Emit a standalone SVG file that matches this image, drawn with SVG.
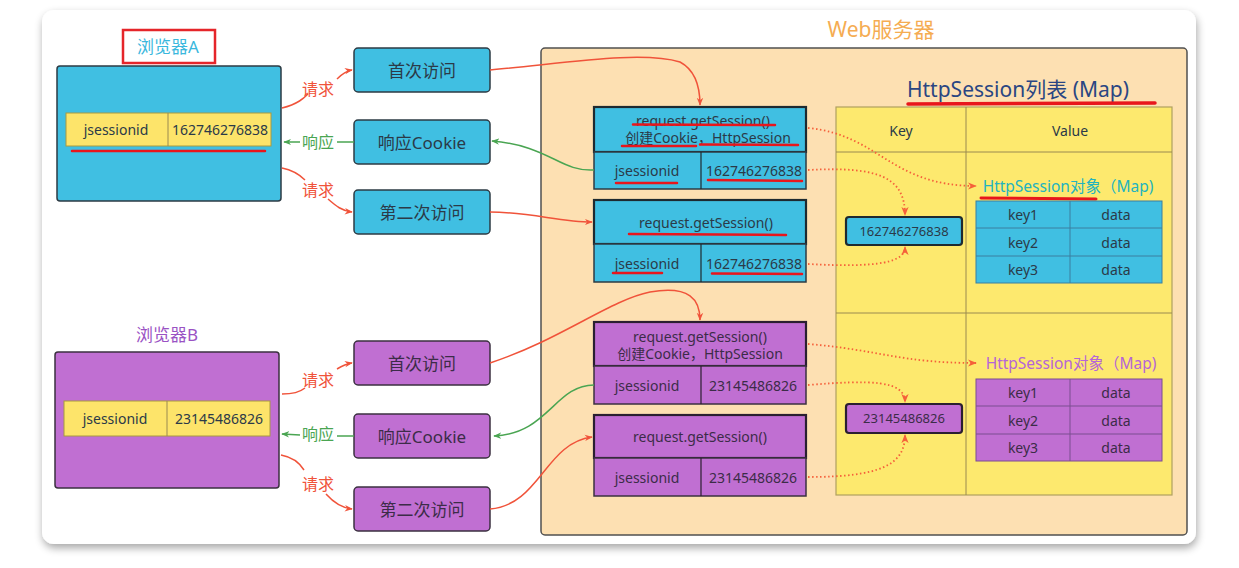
<svg xmlns="http://www.w3.org/2000/svg" width="1239" height="568" viewBox="0 0 1239 568">
<defs>
<filter id="sh" x="-5%" y="-5%" width="110%" height="115%">
<feGaussianBlur in="SourceAlpha" stdDeviation="4"/>
<feOffset dx="1" dy="4"/>
<feComponentTransfer><feFuncA type="linear" slope="0.35"/></feComponentTransfer>
<feMerge><feMergeNode/><feMergeNode in="SourceGraphic"/></feMerge>
</filter>
<marker id="ar" viewBox="0 0 10 10" refX="9" refY="5" markerWidth="8" markerHeight="8" orient="auto" markerUnits="userSpaceOnUse"><path d="M0,1 L10,5 L0,9 L3,5 z" fill="#f0533a"/></marker>
<marker id="ag" viewBox="0 0 10 10" refX="9" refY="5" markerWidth="8" markerHeight="8" orient="auto" markerUnits="userSpaceOnUse"><path d="M0,1 L10,5 L0,9 L3,5 z" fill="#4aa552"/></marker>
<marker id="ao" viewBox="0 0 10 10" refX="9" refY="5" markerWidth="9" markerHeight="9" orient="auto" markerUnits="userSpaceOnUse"><path d="M0,1 L10,5 L0,9 L3,5 z" fill="#f5603a"/></marker>
</defs>
<style>
text{font-family:"Noto Sans","Noto Sans CJK SC",sans-serif;text-anchor:middle;dominant-baseline:central;}
.cy{fill:#40bfe2;stroke:#2d3b44;stroke-width:1.5;}
.cyb{fill:#40bfe2;stroke:#1e2a30;stroke-width:2.2;}
.pu{fill:#c06fd2;stroke:#3b3040;stroke-width:1.5;}
.pub{fill:#c06fd2;stroke:#2a1f30;stroke-width:2.2;}
.ye{fill:#fde46a;stroke:#a89a40;stroke-width:1;}
.t{font-size:14px;fill:#2b3a48;}
.tp{font-size:14px;fill:#3c2c48;}
.bt{font-size:17px;fill:#2b3a48;}
.btp{font-size:17px;fill:#3c2c48;}
.ul{stroke:#e8161c;stroke-width:2.5;fill:none;stroke-linecap:round;}
.rq{fill:none;stroke:#f0533a;stroke-width:1.5;}
.rs{fill:none;stroke:#4aa552;stroke-width:1.5;}
.dt{fill:none;stroke:#f5603a;stroke-width:1.8;stroke-dasharray:1.5 2.5;}
.lr{font-size:16px;fill:#f0533a;}
.lg{font-size:16px;fill:#4aa552;}
.ln{stroke:#9a8a50;stroke-width:1;}
</style>
<rect width="1239" height="568" fill="#ffffff"/>
<rect x="42" y="10" width="1154" height="534" rx="12" fill="#ffffff" filter="url(#sh)"/>

<g id="server">
<text x="881" y="29" style="font-size:21px;fill:#f5ac52;">Web服务器</text>
<rect x="541" y="48" width="646" height="487" rx="4" fill="#fde0b2" stroke="#505050" stroke-width="1.5"/>
</g>

<g id="browserA">
<rect x="123" y="30" width="92" height="33" fill="#ffffff" stroke="#e5252a" stroke-width="2.5"/>
<text x="168" y="46" style="font-size:17px;fill:#3ab7dd;">浏览器A</text>
<rect x="57" y="66" width="224" height="135" rx="3" class="cy"/>
<rect x="66" y="113" width="205" height="33" class="ye"/>
<line x1="168" y1="113" x2="168" y2="146" class="ln"/>
<text x="116" y="129.5" class="t">jsessionid</text>
<text x="220" y="129.5" class="t">162746276838</text>
<line x1="72" y1="151" x2="265" y2="151" class="ul"/>
</g>

<g id="browserB">
<text x="167" y="334" style="font-size:17px;fill:#9a52c4;">浏览器B</text>
<rect x="55" y="352" width="224" height="136" rx="3" class="pu"/>
<rect x="64" y="401" width="206" height="35" class="ye"/>
<line x1="167" y1="401" x2="167" y2="436" class="ln"/>
<text x="115" y="418.5" class="t">jsessionid</text>
<text x="219" y="418.5" class="t">23145486826</text>
</g>

<g id="reqA1"><rect x="354" y="48" width="136" height="44" rx="4" class="cy"/><text x="422" y="70" class="bt">首次访问</text></g>
<g id="resA"><rect x="354" y="120" width="136" height="44" rx="4" class="cy"/><text x="422" y="142" class="bt">响应Cookie</text></g>
<g id="reqA2"><rect x="354" y="190" width="136" height="44" rx="4" class="cy"/><text x="422" y="212" class="bt">第二次访问</text></g>
<g id="reqB1"><rect x="354" y="341" width="136" height="44" rx="4" class="pu"/><text x="422" y="363" class="btp">首次访问</text></g>
<g id="resB"><rect x="354" y="414" width="136" height="44" rx="4" class="pu"/><text x="422" y="436" class="btp">响应Cookie</text></g>
<g id="reqB2"><rect x="354" y="487" width="136" height="44" rx="4" class="pu"/><text x="422" y="509" class="btp">第二次访问</text></g>

<g id="sessA1">
<rect x="594" y="107" width="212" height="45" class="cyb"/>
<text x="703" y="120" class="t">request.getSession()</text>
<text x="708" y="137" class="t">创建Cookie，HttpSession</text>
<line x1="633" y1="124.5" x2="775" y2="125" class="ul"/>
<line x1="622" y1="146" x2="696" y2="146" class="ul"/>
<line x1="700" y1="144.5" x2="798" y2="145" class="ul"/>
<rect x="594" y="152" width="212" height="37" class="cy"/>
<line x1="701" y1="152" x2="701" y2="189" stroke="#1e2a30" stroke-width="1.2"/>
<text x="647" y="170" class="t">jsessionid</text>
<text x="754" y="170" class="t">162746276838</text>
<line x1="616" y1="183" x2="677" y2="183" class="ul"/>
<line x1="708" y1="180" x2="802" y2="181" class="ul"/>
</g>

<g id="sessA2">
<rect x="594" y="200" width="212" height="44" class="cyb"/>
<text x="706" y="222" class="t">request.getSession()</text>
<line x1="629" y1="234" x2="786" y2="235" class="ul"/>
<rect x="594" y="244" width="212" height="38" class="cy"/>
<line x1="701" y1="244" x2="701" y2="282" stroke="#1e2a30" stroke-width="1.2"/>
<text x="647" y="263" class="t">jsessionid</text>
<text x="754" y="263" class="t">162746276838</text>
<line x1="613" y1="273" x2="662" y2="273" class="ul"/>
<line x1="712" y1="273.5" x2="802" y2="274" class="ul"/>
</g>

<g id="sessB1">
<rect x="594" y="322" width="212" height="44" class="pub"/>
<text x="700" y="336" class="tp">request.getSession()</text>
<text x="700" y="353" class="tp">创建Cookie，HttpSession</text>
<rect x="594" y="366" width="212" height="38" class="pu"/>
<line x1="701" y1="366" x2="701" y2="404" stroke="#2a1f30" stroke-width="1.2"/>
<text x="647" y="385" class="tp">jsessionid</text>
<text x="753" y="385" class="tp">23145486826</text>
</g>

<g id="sessB2">
<rect x="594" y="415" width="212" height="43" class="pub"/>
<text x="700" y="436" class="tp">request.getSession()</text>
<rect x="594" y="458" width="212" height="38" class="pu"/>
<line x1="701" y1="458" x2="701" y2="496" stroke="#2a1f30" stroke-width="1.2"/>
<text x="647" y="477" class="tp">jsessionid</text>
<text x="753" y="477" class="tp">23145486826</text>
</g>

<g id="sessionList">
<text x="1018" y="89" style="font-size:21px;fill:#2a4682;">HttpSession列表 (Map)</text>
<line x1="908" y1="104" x2="1155" y2="103" stroke="#e8161c" stroke-width="3.5" stroke-linecap="round"/>
<rect x="836" y="107" width="336" height="388" fill="#fde96e" stroke="#b0a060" stroke-width="1.2"/>
<line x1="966" y1="107" x2="966" y2="495" class="ln"/>
<line x1="836" y1="152" x2="1172" y2="152" class="ln"/>
<line x1="836" y1="313" x2="1172" y2="313" class="ln"/>
<text x="901" y="130" class="t">Key</text>
<text x="1070" y="130" class="t">Value</text>
</g>

<g id="keyA">
<rect x="846" y="217" width="116" height="28" rx="3" class="cyb"/>
<text x="904" y="231" class="t" style="font-size:13px">162746276838</text>
</g>
<g id="keyB">
<rect x="846" y="404" width="116" height="29" rx="3" class="pub"/>
<text x="904" y="418" class="tp" style="font-size:13px">23145486826</text>
</g>

<g id="valueA">
<text x="1068" y="186" style="font-size:15.5px;fill:#22b3c0;">HttpSession对象（Map)</text>
<line x1="981" y1="198" x2="1096" y2="199" stroke="#e8161c" stroke-width="3" stroke-linecap="round"/>
<rect x="976" y="201" width="186" height="82" fill="#40bfe2" stroke="#3a7fa0" stroke-width="1"/>
<line x1="976" y1="228" x2="1162" y2="228" stroke="#3a7fa0"/>
<line x1="976" y1="256" x2="1162" y2="256" stroke="#3a7fa0"/>
<line x1="1070" y1="201" x2="1070" y2="283" stroke="#3a7fa0"/>
<text x="1023" y="214.5" class="t">key1</text><text x="1116" y="214.5" class="t">data</text>
<text x="1023" y="242" class="t">key2</text><text x="1116" y="242" class="t">data</text>
<text x="1023" y="269.5" class="t">key3</text><text x="1116" y="269.5" class="t">data</text>
</g>

<g id="valueB">
<text x="1071" y="363" style="font-size:15.5px;fill:#b565d8;">HttpSession对象（Map)</text>
<rect x="976" y="379" width="186" height="82" fill="#c06fd2" stroke="#7a4f90" stroke-width="1"/>
<line x1="976" y1="406" x2="1162" y2="406" stroke="#7a4f90"/>
<line x1="976" y1="434" x2="1162" y2="434" stroke="#7a4f90"/>
<line x1="1070" y1="379" x2="1070" y2="461" stroke="#7a4f90"/>
<text x="1023" y="392.5" class="tp">key1</text><text x="1116" y="392.5" class="tp">data</text>
<text x="1023" y="420" class="tp">key2</text><text x="1116" y="420" class="tp">data</text>
<text x="1023" y="447.5" class="tp">key3</text><text x="1116" y="447.5" class="tp">data</text>
</g>

<g id="connectors">
<path class="rq" d="M282,108 C298,104 304,98 308,94" />
<path class="rq" d="M337,79 C342,74 346,71 352,70" marker-end="url(#ar)"/>
<text x="318" y="89" class="lr">请求</text>
<path class="rs" d="M354,142 L337,142"/>
<path class="rs" d="M300,142 L284,142" marker-end="url(#ag)"/>
<text x="318" y="142" class="lg">响应</text>
<path class="rq" d="M282,168 C292,170 300,175 305,180"/>
<path class="rq" d="M328,199 C336,206 342,211 352,212" marker-end="url(#ar)"/>
<text x="318" y="190" class="lr">请求</text>

<path class="rq" d="M282,394 C294,394 300,392 305,388"/>
<path class="rq" d="M337,369 C342,366 346,364 352,363" marker-end="url(#ar)"/>
<text x="318" y="380" class="lr">请求</text>
<path class="rs" d="M354,436 L337,436"/>
<path class="rs" d="M300,435 L282,434" marker-end="url(#ag)"/>
<text x="318" y="434" class="lg">响应</text>
<path class="rq" d="M281,455 C292,457 299,462 304,470"/>
<path class="rq" d="M326,494 C334,503 342,508 352,509" marker-end="url(#ar)"/>
<text x="318" y="484" class="lr">请求</text>

<path class="rq" d="M490,70 C560,64 640,50 680,62 C695,70 700,85 700,105" marker-end="url(#ar)"/>
<path class="rs" d="M594,170 C560,172 550,146 492,141" marker-end="url(#ag)"/>
<path class="rq" d="M490,212 C530,212 560,222 592,222" marker-end="url(#ar)"/>

<path class="rq" d="M490,363 C560,340 610,300 650,292 C690,285 700,300 700,320" marker-end="url(#ar)"/>
<path class="rs" d="M594,385 C555,385 548,434 494,436" marker-end="url(#ag)"/>
<path class="rq" d="M490,509 C540,505 545,443 592,437" marker-end="url(#ar)"/>

<path class="dt" d="M808,128 C880,135 890,186 976,186" marker-end="url(#ao)"/>
<path class="dt" d="M808,170 C880,166 905,178 905,215" marker-end="url(#ao)"/>
<path class="dt" d="M808,264 C880,268 905,262 905,247" marker-end="url(#ao)"/>
<path class="dt" d="M808,344 C880,350 900,363 976,363" marker-end="url(#ao)"/>
<path class="dt" d="M808,385 C870,380 905,380 905,402" marker-end="url(#ao)"/>
<path class="dt" d="M808,477 C880,477 905,465 905,435" marker-end="url(#ao)"/>
</g>
</svg>
